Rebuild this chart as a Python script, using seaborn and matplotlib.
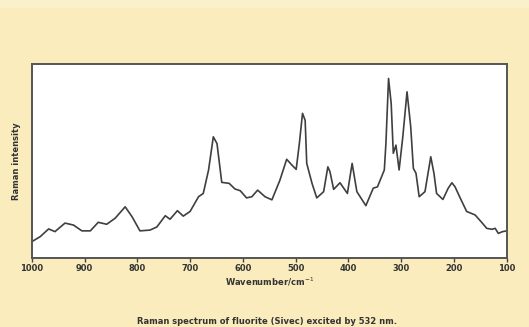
import matplotlib
matplotlib.use("Agg")
import matplotlib.pyplot as plt
import seaborn as sns

# Spectre Raman de la fluorite
wavenumber = [1000, 984, 968, 956, 937, 921, 905, 889, 874, 858, 842, 823, 810,
              795, 776, 763, 747, 738, 724, 713, 700, 684, 675, 665, 656, 649,
              640, 626, 615, 605, 593, 583, 572, 558, 545, 530, 517, 507, 499,
              493, 487, 482, 479, 469, 460, 447, 439, 435, 428, 416, 402, 393,
              384, 367, 353, 345, 332, 329, 324, 319, 315, 310, 304, 297, 289,
              282, 277, 272, 266, 255, 244, 238, 233, 221, 211, 204, 198, 188,
              176, 160, 147, 138, 128, 122, 116, 108, 100]
intensity = [0.084, 0.11, 0.15, 0.136, 0.18, 0.17, 0.14, 0.14, 0.184, 0.174,
             0.205, 0.264, 0.213, 0.14, 0.144, 0.16, 0.218, 0.20, 0.244, 0.216,
             0.24, 0.316, 0.333, 0.454, 0.625, 0.59, 0.39, 0.385, 0.356, 0.347,
             0.31, 0.316, 0.35, 0.316, 0.30, 0.40, 0.509, 0.479, 0.457, 0.59,
             0.746, 0.71, 0.488, 0.385, 0.31, 0.342, 0.47, 0.445, 0.354, 0.388,
             0.333, 0.488, 0.342, 0.27, 0.36, 0.367, 0.454, 0.59, 0.926, 0.797,
             0.54, 0.582, 0.454, 0.625, 0.857, 0.677, 0.462, 0.437, 0.316, 0.342,
             0.522, 0.437, 0.333, 0.302, 0.36, 0.388, 0.367, 0.308, 0.24, 0.222,
             0.182, 0.153, 0.148, 0.153, 0.127, 0.136, 0.14]
xticks = [1000, 900, 800, 700, 600, 500, 400, 300, 200, 100]

sns.set_theme(style="white")
plt.rcParams['font.family'] = ['Liberation Sans Narrow', 'DejaVu Sans']

fig = plt.figure(figsize=(5.29, 3.27), dpi=100, facecolor="#faecbc")
# bande légèrement plus claire en haut de l'image
fig.patches.append(plt.Rectangle((0, 0.975), 1, 0.025, transform=fig.transFigure,
                                 facecolor="#fbf0cc", edgecolor="none", zorder=-1))
ax = fig.add_axes([0.06, 0.211, 0.898, 0.593])
ax.set_facecolor("white")

sns.lineplot(x=wavenumber, y=intensity, ax=ax, color="#3f3f3f", linewidth=1.2)

ax.set_xlim(1000, 100)
ax.set_ylim(0, 1)
ax.set_xticks(xticks)
ax.set_xticklabels([str(t) for t in xticks], fontsize=6, fontweight="bold", color="#333333")
ax.set_yticks([])
ax.tick_params(axis="x", direction="out", length=3, width=1, color="#444444", pad=1.5, bottom=True)
for s in ax.spines.values():
    s.set_color("#555555")
    s.set_linewidth(1.4)

ax.set_xlabel("Wavenumber/cm$^{-1}$", fontsize=6, fontweight="bold", color="#333333", labelpad=2)
ax.set_ylabel("Raman intensity", fontsize=6, fontweight="bold", color="#333333", labelpad=8)

fig.text(0.505, 0.002, "Raman spectrum of fluorite (Sivec) excited by 532 nm.",
         ha="center", va="bottom", fontsize=6, fontweight="bold", color="#333333")

fig.savefig("out.png", dpi=100, facecolor=fig.get_facecolor())
